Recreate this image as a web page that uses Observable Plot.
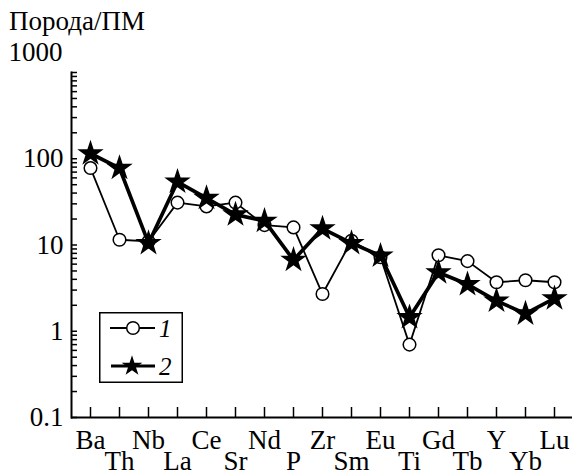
<!DOCTYPE html>
<html><head><meta charset="utf-8">
<script src="https://cdn.jsdelivr.net/npm/d3@7"></script>
<script src="https://cdn.jsdelivr.net/npm/@observablehq/plot@0.6"></script>
<style>
html,body{margin:0;padding:0;background:#fff;}
#wrap{position:relative;width:572px;height:475px;font-family:"Liberation Serif",serif;color:#000;}
#title{position:absolute;left:9px;top:6px;font-size:27px;line-height:30px;white-space:nowrap;}
#chart{padding-top:30px;}
#legend{position:absolute;left:99px;top:312px;}
svg{display:block;overflow:visible;}
</style></head><body>
<div id="wrap"><div id="title">Порода/ПМ</div><div id="chart"></div><div id="legend"></div></div>
<script>
const elements = ["Ba","Th","Nb","La","Ce","Sr","Nd","P","Zr","Sm","Eu","Ti","Gd","Tb","Y","Yb","Lu"];
const series1 = [78, 11.5, 11, 31, 28, 31, 17, 16, 2.7, 11.2, 7.2, 0.7, 7.6, 6.5, 3.7, 3.9, 3.7];
const series2 = [115, 78, 10.5, 54, 35, 22.5, 19, 6.7, 15.5, 10.5, 7.5, 1.45, 4.8, 3.5, 2.25, 1.6, 2.4];
const seriesNames = ["1", "2"];
const yLabelTicks = [0.1, 1, 10, 100];
const yTopLabel = [1000];

const d1 = elements.map((el, i) => ({el, v: series1[i]}));
const d2 = elements.map((el, i) => ({el, v: series2[i]}));
const decades = [0.1, 1, 10, 100];
const yAllTicks = decades.flatMap(d => d3.range(1, 10).map(k => +(d * k).toPrecision(3))).concat([1000]);
const evenEls = elements.filter((_, i) => i % 2 === 0);
const oddEls = elements.filter((_, i) => i % 2 === 1);

const font = "'Liberation Serif', serif";
const fs = 27;
const chart = Plot.plot({
  width: 572,
  height: 445,
  marginTop: 42,
  marginBottom: 58,
  marginLeft: 71,
  marginRight: 0,
  style: {fontFamily: font, fontSize: fs + "px", color: "#000", background: "#fff", overflow: "visible"},
  x: {type: "point", domain: elements, padding: 0.5, label: null},
  y: {type: "log", domain: [0.1, 1000], label: null},
  marks: [
    Plot.frame({anchor: "left", stroke: "#000", strokeWidth: 2}),
    Plot.ruleY([0.1], {stroke: "#000", strokeWidth: 2}),
    Plot.axisY({ticks: yAllTicks, tickSize: -6, tickFormat: () => "", strokeWidth: 1.5, label: null}),
    Plot.axisY({ticks: yLabelTicks, tickSize: 0, tickPadding: 8, fontSize: fs, tickFormat: d => String(d), label: null}),
    Plot.text(yTopLabel, {y: d => d, frameAnchor: "left", dx: -9, dy: -20, textAnchor: "end", fontSize: fs, text: d => String(d)}),
    Plot.axisX({tickSize: -10, tickFormat: () => "", strokeWidth: 1.5, label: null}),
    Plot.axisX({ticks: evenEls, tickSize: 0, tickPadding: 12, fontSize: fs, label: null}),
    Plot.axisX({ticks: oddEls, tickSize: 0, tickPadding: 33, fontSize: fs, label: null}),
    Plot.line(d1, {x: "el", y: "v", stroke: "#000", strokeWidth: 1.8}),
    Plot.dot(d1, {x: "el", y: "v", r: 6.3, fill: "#fff", stroke: "#000", strokeWidth: 1.5}),
    Plot.line(d2, {x: "el", y: "v", stroke: "#000", strokeWidth: 3.7}),
    Plot.dot(d2, {x: "el", y: "v", symbol: "star", r: 8.3, fill: "#000", stroke: "none"})
  ]
});
document.getElementById("chart").appendChild(chart);

// legend
const lg = d3.select("#legend").append("svg").attr("width", 84).attr("height", 71);
lg.append("rect").attr("x", 0.75).attr("y", 0.75).attr("width", 82.5).attr("height", 69.5)
  .attr("fill", "#fff").attr("stroke", "#000").attr("stroke-width", 1.5);
lg.append("line").attr("x1", 11).attr("x2", 56).attr("y1", 16).attr("y2", 16).attr("stroke", "#000").attr("stroke-width", 1.8);
lg.append("circle").attr("cx", 34).attr("cy", 16).attr("r", 6.3).attr("fill", "#fff").attr("stroke", "#000").attr("stroke-width", 1.5);
lg.append("line").attr("x1", 12).attr("x2", 56).attr("y1", 54).attr("y2", 54).attr("stroke", "#000").attr("stroke-width", 3);
lg.append("path").attr("transform", "translate(33,54)")
  .attr("d", d3.symbol(d3.symbolStar, Math.PI * 6.5 * 6.5)()).attr("fill", "#000");
[16, 54].forEach((y, i) => {
  lg.append("text").attr("x", 60).attr("y", y + 9).attr("style", "font-family:" + font).attr("font-size", 25)
    .attr("font-style", "italic").text(seriesNames[i]);
});
</script>
</body></html>
